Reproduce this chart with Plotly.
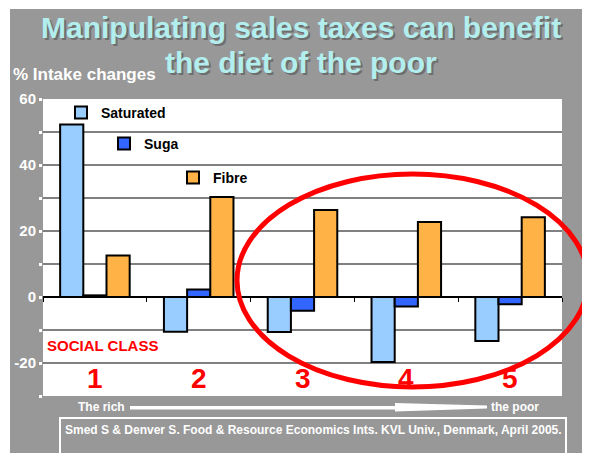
import plotly.graph_objects as go

# ---- data ----
social_class = [1, 2, 3, 4, 5]
saturated = [52.3, -10.5, -10.6, -19.7, -13.3]
sugar = [0.5, 2.3, -4.2, -2.9, -2.2]
fibre = [12.6, 30.3, 26.4, 22.7, 24.2]
series_names = ["Saturated", "Suga", "Fibre"]
y_ticks = [-30, -20, -10, 0, 10, 20, 30, 40, 50, 60]
y_ticktext = ["", "-20", "", "0", "", "20", "", "40", "", "60"]
class_labels = ["1", "2", "3", "4", "5"]

W, H = 590, 453
OFF = 8  # page body margin offset
L, R, T, B = 43 - OFF, 562 - OFF, 99 - OFF, 396 - OFF  # plot area in figure pixels


def px(x):
    # x given in reference (screen) pixels
    return (x - OFF - L) / (R - L)


def py(y):
    return (B - (y - OFF)) / (B - T)


FONT = "Liberation Sans, Arial, sans-serif"
GRAY = "#989898"

fig = go.Figure()
colors = ["#99ccff", "#3366ff", "#ffb347"]
for name, vals, col, lg in zip(series_names, [saturated, sugar, fibre], colors,
                               ["legend", "legend2", "legend3"]):
    fig.add_trace(go.Bar(x=social_class, y=vals, name=name, marker_color=col,
                         marker_line_color="black", marker_line_width=2,
                         legend=lg, showlegend=True))

legend_common = dict(bgcolor="rgba(0,0,0,0)", borderwidth=0,
                     font=dict(family=FONT, size=14, color="black", weight="bold"),
                     xanchor="left", yanchor="middle", itemwidth=30)

fig.update_layout(
    width=W, height=H,
    margin=dict(l=L, r=W - R, t=T, b=H - B, autoexpand=False),
    paper_bgcolor=GRAY, plot_bgcolor="white",
    barmode="group", bargap=0.33, bargroupgap=0,
    showlegend=True,
    legend=dict(x=px(61), y=py(113), **legend_common),
    legend2=dict(x=px(104), y=py(144), **legend_common),
    legend3=dict(x=px(173), y=py(178), **legend_common),
    xaxis=dict(range=[0.5, 5.5], anchor="free", position=1 / 3,
               showline=True, linecolor="black", linewidth=2,
               tickvals=[0.5, 1.5, 2.5, 3.5, 4.5, 5.5], ticks="outside",
               ticklen=4, tickcolor="black", tickwidth=1,
               showticklabels=False, showgrid=False, zeroline=False),
    yaxis=dict(range=[-30, 60], tickvals=y_ticks, ticktext=y_ticktext,
               gridcolor="#808080", gridwidth=1.5, zeroline=False,
               ticks="outside", ticklen=3, tickwidth=3, tickcolor="white",
               tickfont=dict(family=FONT, size=15, color="white", weight="bold"),
               showline=False),
)

shapes = []
# thin white strips at top and left (page margin beyond the body offset)
shapes.append(dict(type="rect", xref="paper", yref="paper", x0=px(0), x1=px(W + 20),
                   y0=py(0), y1=py(9), fillcolor="white", line_width=0, layer="below"))
shapes.append(dict(type="rect", xref="paper", yref="paper", x0=px(0), x1=px(10),
                   y0=py(0), y1=py(H + 20), fillcolor="white", line_width=0, layer="below"))
# red ellipse
shapes.append(dict(type="circle", xref="paper", yref="paper", x0=px(237), x1=px(588),
                   y0=py(387), y1=py(174), line=dict(color="#ff0000", width=5),
                   layer="above"))
# arrow rich -> poor
arrow_path = (f"M {px(130)} {py(406)} L {px(395)} {py(406)} L {px(395)} {py(403)} "
              f"L {px(487)} {py(405.5)} L {px(487)} {py(408.5)} L {px(395)} {py(411.5)} "
              f"L {px(395)} {py(409.5)} L {px(130)} {py(409.5)} Z")
shapes.append(dict(type="path", xref="paper", yref="paper", path=arrow_path,
                   fillcolor="white", line_width=0))
# citation box
shapes.append(dict(type="rect", xref="paper", yref="paper", x0=px(60), x1=px(566),
                   y0=py(470), y1=py(418), line=dict(color="white", width=2),
                   fillcolor="rgba(0,0,0,0)"))
fig.update_layout(shapes=shapes)

ann = []
title_lines = [("Manipulating sales taxes can benefit", 27), ("the diet of the poor", 62)]
for txt, yc in title_lines:
    ann.append(dict(text=txt, xref="paper", yref="paper", x=px(301), y=py(yc),
                    showarrow=False, xanchor="center", yanchor="middle",
                    font=dict(family=FONT, size=30, color="#b3eeee", weight="bold",
                              shadow="2px 2px 0px #6e6e6e")))
ann.append(dict(text="% Intake changes", xref="paper", yref="paper", x=px(11), y=py(75),
                showarrow=False, xanchor="left", yanchor="middle",
                font=dict(family=FONT, size=17, color="white", weight="bold")))
ann.append(dict(text="SOCIAL CLASS", xref="paper", yref="paper", x=px(45), y=py(345),
                showarrow=False, xanchor="left", yanchor="middle",
                font=dict(family=FONT, size=15, color="#ff0000", weight="bold")))
for c, lab in zip(social_class, class_labels):
    ann.append(dict(text=lab, xref="x", yref="paper", x=c, y=py(378),
                    showarrow=False, xanchor="center", yanchor="middle",
                    font=dict(family=FONT, size=28, color="#ff0000", weight="bold")))
ann.append(dict(text="The rich", xref="paper", yref="paper", x=px(127), y=py(407),
                showarrow=False, xanchor="right", yanchor="middle",
                font=dict(family=FONT, size=12, color="white", weight="bold")))
ann.append(dict(text="the poor", xref="paper", yref="paper", x=px(489), y=py(407),
                showarrow=False, xanchor="left", yanchor="middle",
                font=dict(family=FONT, size=12, color="white", weight="bold")))
ann.append(dict(text="Smed S & Denver S. Food & Resource Economics Ints. KVL Univ., Denmark, April 2005.",
                xref="paper", yref="paper", x=px(313), y=py(430),
                showarrow=False, xanchor="center", yanchor="middle",
                font=dict(family=FONT, size=12, color="white", weight="bold")))
fig.update_layout(annotations=ann)

fig.write_html("out.html")
